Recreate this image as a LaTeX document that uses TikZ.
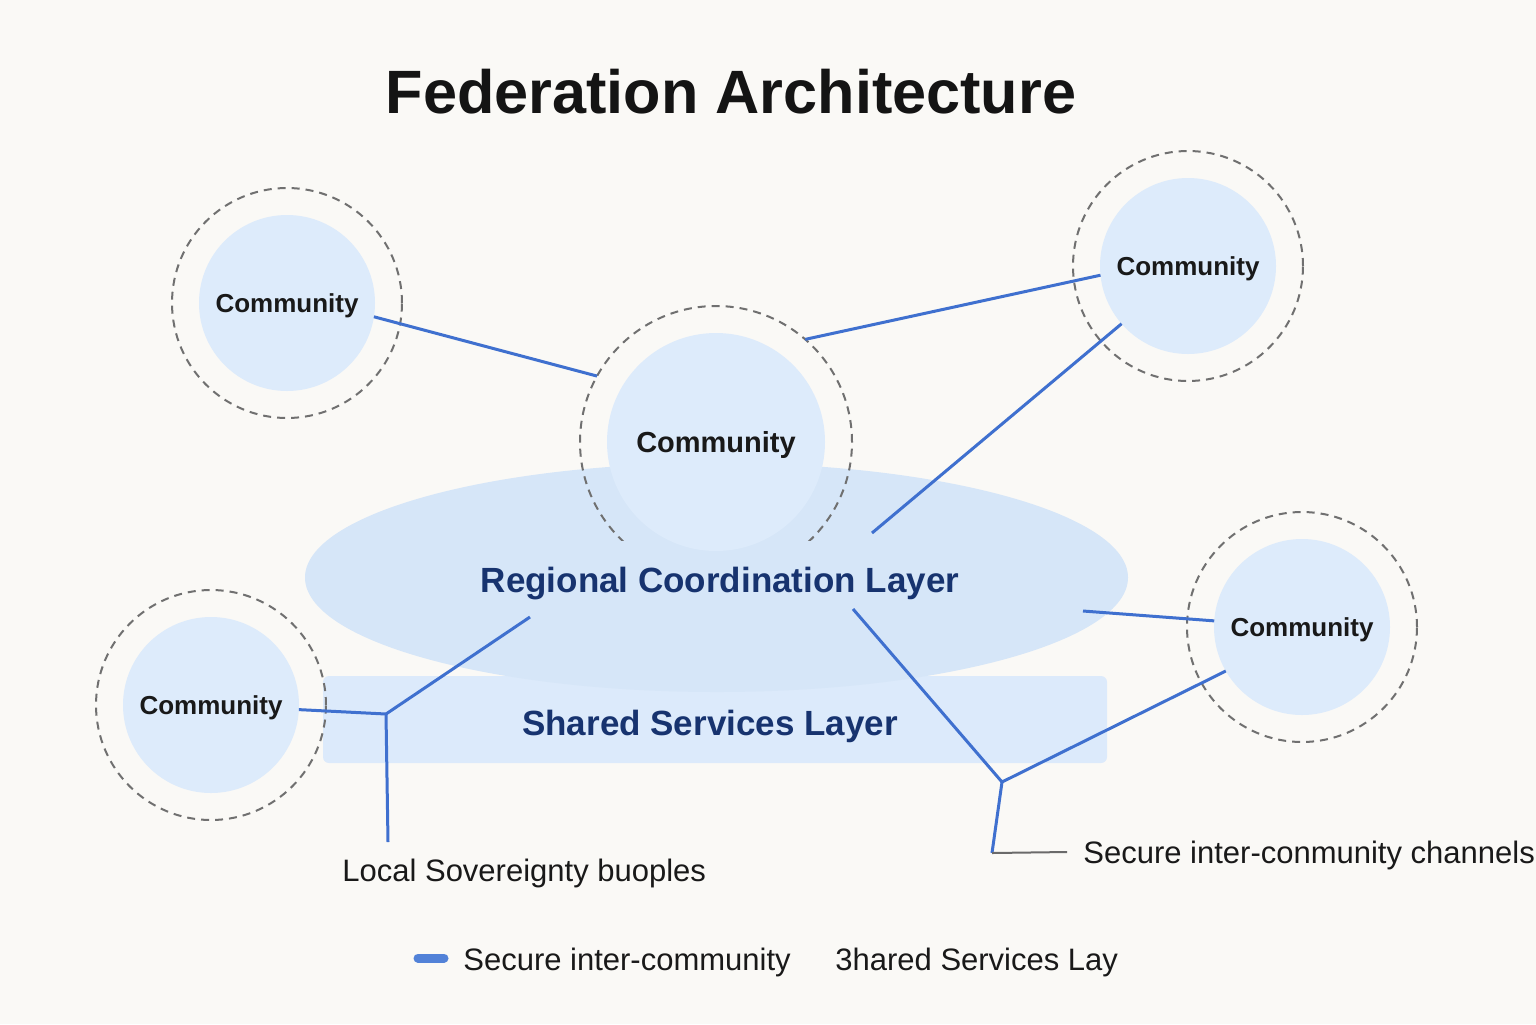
\documentclass[tikz,border=0pt]{standalone}
\usepackage{fontspec}
\setmainfont{Liberation Sans}
\usetikzlibrary{shapes.geometric}

\definecolor{bgcol}{HTML}{FAF9F6}
\definecolor{commfill}{HTML}{DDEBFB}
\definecolor{ellfill}{HTML}{D6E6F8}
\definecolor{rectfill}{HTML}{DCEAFB}
\definecolor{linkblue}{HTML}{3F70CF}
\definecolor{legblue}{HTML}{5282D8}
\definecolor{ringgray}{HTML}{707070}
\definecolor{tickgray}{HTML}{6A6A6A}
\definecolor{navy}{HTML}{17336F}

\tikzset{
  comm/.style={circle, fill=commfill, minimum size=88pt, inner sep=0pt, outer sep=0pt,
    text depth=0pt, text=black!90, font=\bfseries\fontsize{13}{15}\selectfont},
  ring/.style={circle, draw=ringgray, line width=1pt, dash pattern=on 4pt off 3pt,
    minimum size=115pt, inner sep=0pt, outer sep=0pt},
  link/.style={draw=linkblue, line width=1.5pt},
  layerlbl/.style={text=navy, inner sep=0pt, text depth=0pt, font=\bfseries\fontsize{17.5}{21}\selectfont},
  lbl/.style={anchor=west, inner sep=0pt, text depth=0pt, text=black!90, font=\fontsize{15.5}{18}\selectfont},
}

\begin{document}
\begin{tikzpicture}[x=0.5pt, y=-0.5pt]

\fill[bgcol] (0,0) rectangle (1536,1024);
\useasboundingbox (0,0) rectangle (1536,1024);

\node[font=\bfseries\fontsize{30.6}{36}\selectfont, text=black!92] (title) at (731,92) {Federation Architecture};

\node[rectangle, rounded corners=3pt, fill=rectfill, minimum width=392pt, minimum height=43.5pt,
  inner sep=0pt] (shared) at (715,719.5) {};
\node[ellipse, fill=ellfill, minimum width=411.5pt, minimum height=114.5pt, inner sep=0pt] (regional) at (716.5,577.5) {};

\node[layerlbl] (sharedlbl) at (710,723) {Shared Services Layer};
\node[layerlbl] (regionallbl) at (720,580) {Regional Coordination Layer};

\node[comm, minimum size=109pt, font=\bfseries\fontsize{14.5}{17}\selectfont] (hub) at (716,442) {Community};
\node[circle, minimum size=136pt, inner sep=0pt, outer sep=0pt] (hubring) at (716,442) {};
\begin{scope}
\clip (0,0) rectangle (1536,540);
\node[ring, minimum size=136pt] (hubdash) at (716,442) {};
\end{scope}

\foreach \n/\x/\y in {ctl/287/303, ctr/1188/266, cr/1302/627, cl/211/705}{
\node[ring] (r\n) at (\x,\y) {};
\node[comm] (\n) at (\x,\y) {Community};
}

\coordinate (cend) at (872,533);
\coordinate (dstart) at (1083,611);
\coordinate (jl) at (386,714);
\coordinate (lup) at (530,617);
\coordinate (lend) at (388,842);
\coordinate (rup) at (853,609);
\coordinate (jr) at (1002,782);
\coordinate (rend) at (992,853);
\coordinate (rtick) at (1067,852);

\draw[link] (ctl.-9) -- (hubring.151);
\draw[link] (hubring.49) -- (ctr.186);
\draw[link] (ctr.221) -- (cend);
\draw[link] (dstart) -- (cr.176);
\draw[link] (cl.-3) -- (jl) -- (lup);
\draw[link] (jl) -- (lend);
\draw[link] (rup) -- (jr) -- (cr.210);
\draw[link] (jr) -- (rend);
\draw[tickgray, line width=1pt] (rend) -- (rtick);

\node[lbl] (sovlbl) at (342,870) {Local Sovereignty buoples};
\node[lbl] (chanlbl) at (1083,852) {Secure inter-conmunity channels};

\coordinate (legA) at (418,958);
\coordinate (legB) at (444,958);
\draw[legblue, line width=4.5pt, line cap=round] (legA) -- (legB);
\node[lbl] (leg1) at (463,959) {Secure inter-community};
\node[lbl] (leg2) at (835,959) {3hared Services Lay};

\end{tikzpicture}
\end{document}
